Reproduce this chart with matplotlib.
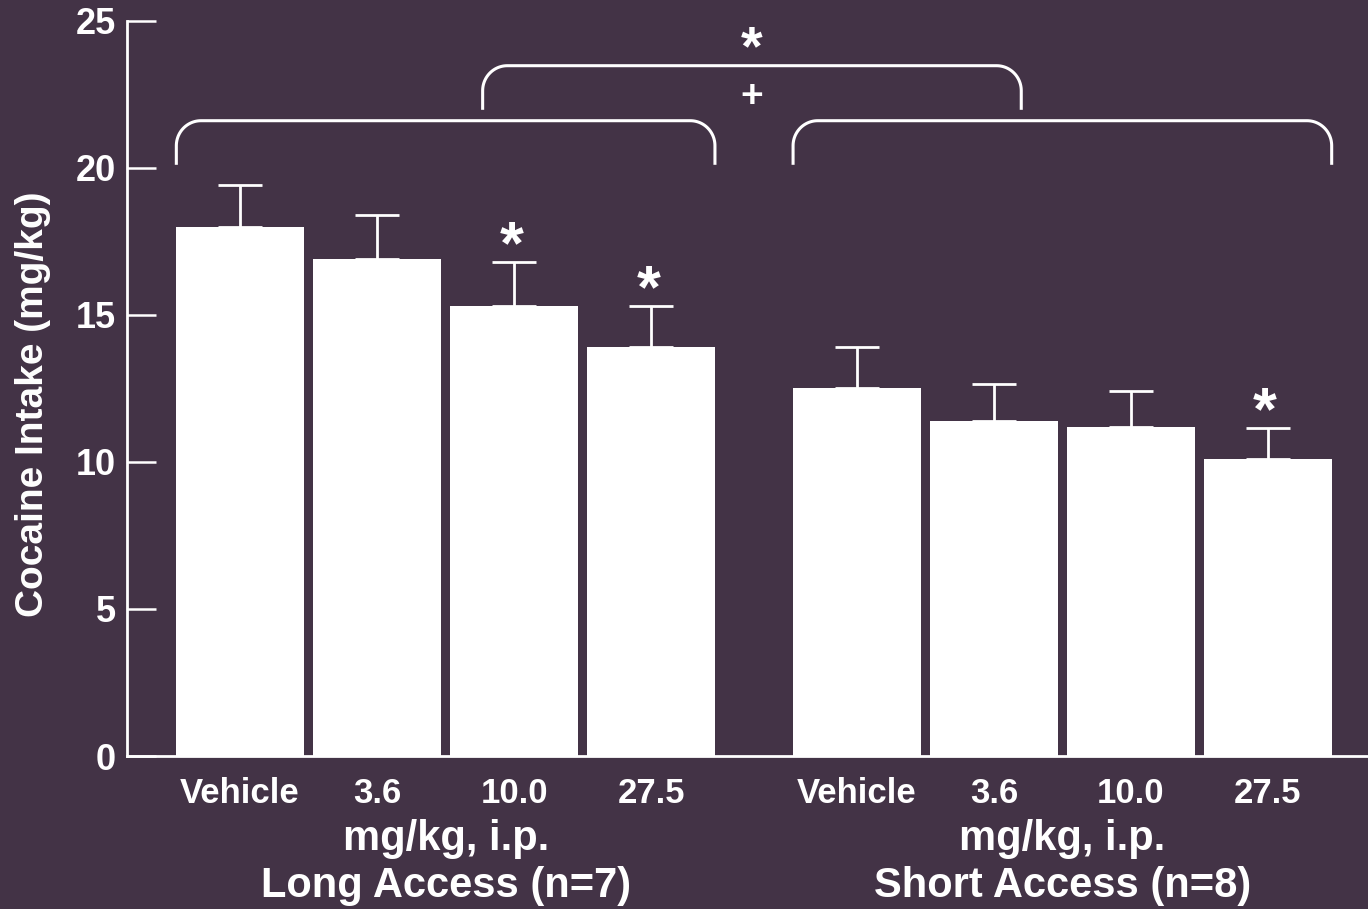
import numpy as np
import matplotlib
matplotlib.use("Agg")
import matplotlib.pyplot as plt

# valores
doses = ["Vehicle", "3.6", "10.0", "27.5"]
long_mean = [18.0, 16.9, 15.3, 13.9]
long_sem = [1.4, 1.5, 1.5, 1.4]
short_mean = [12.5, 11.4, 11.2, 10.1]
short_sem = [1.4, 1.25, 1.2, 1.05]
long_star = [False, False, True, True]
short_star = [False, False, False, True]
groups = ["Long Access (n=7)", "Short Access (n=8)"]
unit = "mg/kg, i.p."

bg = "#433346"
fg = "white"
font = "Liberation Sans"

fig = plt.figure(figsize=(13.68, 9.09), dpi=100, facecolor=bg)
ax = fig.add_axes([127/1368, 1-756/909, 1-127/1368, (756-20.7)/909])
ax.set_facecolor(bg)

xl = np.arange(4)
xs = np.arange(4) + 4.5
w = 0.93

ax.bar(xl, long_mean, width=w, color=fg, zorder=3)
ax.bar(xs, short_mean, width=w, color=fg, zorder=3)
ax.errorbar(xl, long_mean, yerr=[np.zeros(4), long_sem], fmt="none", ecolor=fg,
            elinewidth=2, capsize=16, capthick=2, zorder=1)
ax.errorbar(xs, short_mean, yerr=[np.zeros(4), short_sem], fmt="none", ecolor=fg,
            elinewidth=2, capsize=16, capthick=2, zorder=1)

# asteriscos sobre las barras
for x, m, s, st in zip(list(xl)+list(xs), long_mean+short_mean, long_sem+short_sem, long_star+short_star):
    if st:
        ax.annotate("*", (x, m+s), xytext=(-2, 10), textcoords="offset points",
                    ha="center", va="center", color=fg, fontsize=44,
                    fontweight="bold", family=font)

def llave(x0, x1, ylo, yhi, rx=0.18, ry=0.85):
    t = np.linspace(0, np.pi/2, 25)
    lx = x0 + rx - rx*np.cos(t)
    ly = yhi - ry + ry*np.sin(t)
    rxs = x1 - rx + rx*np.sin(t)
    rys = yhi - ry + ry*np.cos(t)
    px = np.concatenate([[x0], lx, rxs, [x1]])
    py = np.concatenate([[ylo], ly, rys, [ylo]])
    ax.plot(px, py, color=fg, lw=2.2, solid_capstyle="butt", clip_on=False)

llave(xl[0]-w/2, xl[-1]+w/2, 20.1, 21.6)
llave(xs[0]-w/2, xs[-1]+w/2, 20.1, 21.6)
cl = xl.mean()
cs = xs.mean()
llave(cl+0.27, cs-0.30, 21.97, 23.47)
xm = (cl+0.27+cs-0.30)/2
ax.text(xm, 24.0, "*", ha="center", va="center", color=fg, fontsize=40,
        fontweight="bold", family=font, clip_on=False)
ax.text(xm, 22.4, "+", ha="center", va="center", color=fg, fontsize=28,
        fontweight="bold", family=font, clip_on=False)

ax.set_xlim(-0.825, 8.23)
ax.set_ylim(0, 25)
ax.set_yticks([0, 5, 10, 15, 20, 25])
ax.set_xticks(list(xl)+list(xs))
ax.set_xticklabels(doses+doses, family=font, fontweight="bold", fontsize=25, color=fg)
ax.tick_params(axis="x", length=0, pad=15)
ax.tick_params(axis="y", direction="in", length=21, width=1.8, color=fg, labelcolor=fg,
               labelsize=26, pad=8)
for lab in ax.get_yticklabels():
    lab.set_fontweight("bold")
    lab.set_family(font)

for sp in ["top", "right"]:
    ax.spines[sp].set_visible(False)
for sp in ["left", "bottom"]:
    ax.spines[sp].set_color(fg)
    ax.spines[sp].set_linewidth(2)

ax.set_ylabel("Cocaine Intake (mg/kg)", color=fg, fontsize=28, fontweight="bold", family=font)
ax.yaxis.set_label_coords(-0.061, 0.478)

trans = ax.get_xaxis_transform()
for c, g in zip([cl, cs], groups):
    ax.text(c, -0.113, unit, transform=trans, ha="center", va="center", color=fg,
            fontsize=30, fontweight="bold", family=font)
    ax.text(c, -0.177, g, transform=trans, ha="center", va="center", color=fg,
            fontsize=30, fontweight="bold", family=font)

fig.savefig("out.png", dpi=100, facecolor=bg)
